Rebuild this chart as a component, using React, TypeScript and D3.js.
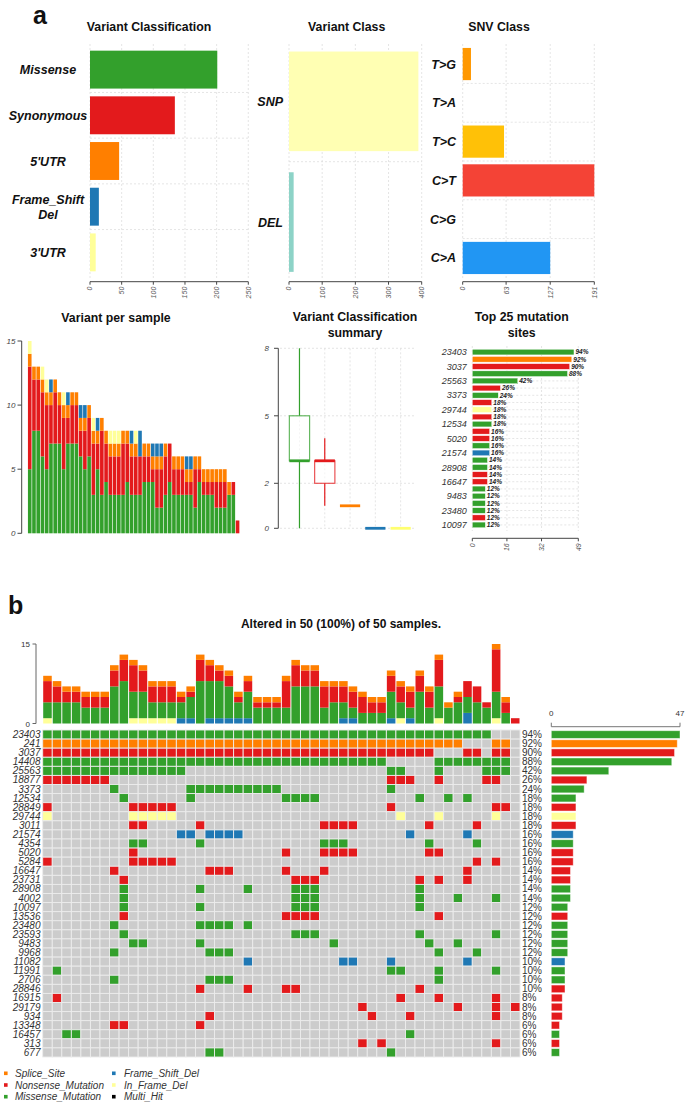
import React, { useEffect, useRef } from 'react';
import * as d3 from 'd3';

const FONT = "'Liberation Sans', Arial, Helvetica, sans-serif";

const green = '#33A02C';
const red = '#E31A1C';
const orange = '#FF7F00';
const blue = '#1F78B4';
const yellow = '#FFFF99';
const typeColor: Record<string, string> = { G: green, R: red, O: orange, B: blue, Y: yellow };

// ---- panel a, top row ----
const vcNames = ['Missense', 'Synonymous', "5'UTR", 'Frame_Shift Del', "3'UTR"];
const vcCounts = [201, 134, 46, 14, 9];
const vcColors = [green, red, orange, blue, yellow];
const vcTicks = [0, 50, 100, 150, 200, 250];

const classNames = ['SNP', 'DEL'];
const classCounts = [390, 14];
const classColors = ['#FFFFB3', '#8DD3C7'];
const classTicks = [0, 100, 200, 300, 400];

const snvNames = ['T>G', 'T>A', 'T>C', 'C>T', 'C>G', 'C>A'];
const snvCounts = [12, 0, 60, 191, 0, 127];
const snvColors = ['#FF9800', '#9E9E9E', '#FFC107', '#F44336', '#3F51B5', '#2196F3'];
const snvTicks = [0, 63, 127, 191];

// ---- panel a, bottom row ----
const boxColors = [green, red, orange, blue, '#FFFF70'];
const boxMin = [0, 1, 1, 0, 0];
const boxQ1 = [3, 2, 1, 0, 0];
const boxMed = [3, 3, 1, 0, 0];
const boxQ3 = [5, 3, 1, 0, 0];
const boxMax = [8, 4, 1, 0, 0];
const boxTicks = [0, 2, 5, 8];

const topSites = ['23403', '241', '3037', '14408', '25563', '18877', '3373', '28849', '29744', '3011', '12534', '5284', '5020', '4354', '21574', '4002', '28908', '23731', '16647', '23593', '9483', '9968', '23480', '13536', '10097'];
const topPct = [94, 92, 90, 88, 42, 26, 24, 18, 18, 18, 18, 16, 16, 16, 16, 14, 14, 14, 14, 12, 12, 12, 12, 12, 12];
const topType = ['G', 'O', 'R', 'G', 'G', 'R', 'G', 'R', 'Y', 'R', 'G', 'R', 'R', 'G', 'B', 'G', 'G', 'R', 'R', 'G', 'G', 'G', 'G', 'R', 'G'];
const topTicks = [0, 16, 32, 49];

// ---- panel b, oncoplot ----
const nSamples = 50;
const genes = ['23403', '241', '3037', '14408', '25563', '18877', '3373', '12534', '28849', '29744', '3011', '21574', '4354', '5020', '5284', '16647', '23731', '28908', '4002', '10097', '13536', '23480', '23593', '9483', '9968', '11082', '11991', '2706', '28846', '16915', '29179', '934', '13348', '16457', '313', '677'];
const genePct = [94, 92, 90, 88, 42, 26, 24, 18, 18, 18, 18, 16, 16, 16, 16, 14, 14, 14, 14, 12, 12, 12, 12, 12, 12, 10, 10, 10, 10, 8, 8, 8, 6, 6, 6, 6];
const geneType = ['G', 'O', 'R', 'G', 'G', 'R', 'G', 'G', 'R', 'Y', 'R', 'B', 'G', 'R', 'R', 'R', 'R', 'G', 'G', 'G', 'R', 'G', 'G', 'G', 'G', 'B', 'G', 'G', 'R', 'R', 'R', 'R', 'R', 'G', 'R', 'G'];
// mutated sample columns per gene (0-based, ranges inclusive)
const geneSamples = [
  '0-46', '0-43,47-48', '0-40,44-45,47-48', '0-35,41-48', '0-14,36-37,41,46-48',
  '0-6,36-38,41,46-47', '7,15-24,36', '8,15,25-28,39,42,44', '0,9-13,36,47-48', '0,9-13,37,41,47',
  '9-10,16,29-32,40,45', '14-15,17-20,38,44', '9-10,16,29-31,40,45', '9,25,29-32,40-41', '0,9-13,45,47',
  '7,17-19,25,29,44', '8,26-28,39,41,44', '8,16,21,26-28,39', '8,26-28,39,43,47', '8,16,26-28,39',
  '8,25-28,41', '7,16-19,21', '8,26-28,39,47', '9-10,16,30,40,43', '7,17-19,41,45',
  '21,31-32,36,44', '1,36-37,41,47', '7,17-19,41', '16,21,25-26,39', '1,37,41,47',
  '33,43,47,49', '17,34,38,47', '7-8,16', '2-3,38', '33,35,47', '17-18,36',
];

const legendLeft = ['Splice_Site', 'Nonsense_Mutation', 'Missense_Mutation'];
const legendLeftColors = [orange, red, green];
const legendRight = ['Frame_Shift_Del', 'In_Frame_Del', 'Multi_Hit'];
const legendRightColors = [blue, yellow, '#000000'];

function parseRuns(s: string): number[] {
  const out: number[] = [];
  s.split(',').forEach(p => {
    const [a, b] = p.split('-').map(Number);
    if (b === undefined || isNaN(b)) out.push(a);
    else for (let i = a; i <= b; i++) out.push(i);
  });
  return out;
}

export default function App() {
  const svgRef = useRef<SVGSVGElement>(null);

  useEffect(() => {
    if (!svgRef.current) return;
    const svg = d3.select(svgRef.current);
    svg.selectAll('*').remove();
    const root = svg.append('g').style('font-family', FONT);

    const gridCol = '#dadada';
    const axisCol = '#444';

    const text = (x: number, y: number, s: string, o: any = {}) =>
      root.append('text')
        .attr('x', x).attr('y', y)
        .attr('font-size', o.size ?? 10)
        .attr('font-weight', o.bold ? 'bold' : null)
        .attr('font-style', o.italic ? 'italic' : null)
        .attr('text-anchor', o.anchor ?? 'start')
        .attr('fill', o.fill ?? '#111')
        .text(s);

    // panel letters
    text(33, 24, 'a', { size: 25, bold: true });
    text(8, 614, 'b', { size: 25, bold: true });

    // ---------- top row horizontal bar panels ----------
    const axisY = 281.7;
    function barPanel(names: string[], counts: number[], colors: string[],
      x: d3.ScaleLinear<number, number>, y: d3.ScaleBand<string>, ticks: number[]) {
      const g = root.append('g');
      ticks.forEach(t => {
        g.append('line').attr('x1', x(t)).attr('x2', x(t))
          .attr('y1', 44).attr('y2', axisY - 3)
          .attr('stroke', gridCol).attr('stroke-width', 0.7).attr('stroke-dasharray', '2,2');
      });
      names.forEach((n, i) => {
        if (i === 0) return;
        const yy = (y(n) as number) - (y.step() - y.bandwidth()) / 2;
        g.append('line').attr('x1', x(ticks[0])).attr('x2', x(ticks[ticks.length - 1]))
          .attr('y1', yy).attr('y2', yy)
          .attr('stroke', gridCol).attr('stroke-width', 0.7).attr('stroke-dasharray', '2,2');
      });
      g.selectAll('rect.bar').data(names).join('rect')
        .attr('x', x(0))
        .attr('y', d => y(d) as number)
        .attr('width', (d, i) => x(counts[i]) - x(0))
        .attr('height', y.bandwidth())
        .attr('fill', (d, i) => colors[i]);
      g.append('line').attr('x1', x(ticks[0])).attr('x2', x(ticks[ticks.length - 1]))
        .attr('y1', axisY).attr('y2', axisY).attr('stroke', axisCol);
      ticks.forEach(t => {
        g.append('line').attr('x1', x(t)).attr('x2', x(t)).attr('y1', axisY).attr('y2', axisY + 3).attr('stroke', axisCol);
        g.append('text')
          .attr('transform', `translate(${x(t) + 2.4},${axisY + 5}) rotate(-90)`)
          .attr('text-anchor', 'end').attr('font-size', 7).attr('font-style', 'italic')
          .attr('fill', '#555').text(t);
      });
    }

    // Variant Classification
    const vcX = d3.scaleLinear().domain([0, 250]).range([90, 248.3]);
    const vcY = d3.scaleBand().domain(vcNames).range([47, 275]).paddingInner(0.17).paddingOuter(0.08);
    barPanel(vcNames, vcCounts, vcColors, vcX, vcY, vcTicks);
    text(149, 31, 'Variant Classification', { size: 12.3, bold: true, anchor: 'middle' });
    vcNames.forEach(n => {
      const cy = (vcY(n) as number) + vcY.bandwidth() / 2;
      const parts = n.split(' ');
      parts.forEach((p, k) => {
        text(48, cy + 4.5 + (k - (parts.length - 1) / 2) * 15, p, { size: 12.5, bold: true, italic: true, anchor: 'middle' });
      });
    });

    // Variant Class
    const clX = d3.scaleLinear().domain([0, 400]).range([289, 421.7]);
    const clY = d3.scaleBand().domain(classNames).range([46.7, 276.7]).paddingInner(0.175).paddingOuter(0.04);
    barPanel(classNames, classCounts, classColors, clX, clY, classTicks);
    text(346.7, 31, 'Variant Class', { size: 12.3, bold: true, anchor: 'middle' });
    classNames.forEach(n => {
      const cy = (clY(n) as number) + clY.bandwidth() / 2;
      text(283, cy + 4.5, n, { size: 12.5, bold: true, italic: true, anchor: 'end' });
    });

    // SNV Class
    const snX = d3.scaleLinear().domain([0, 191]).range([462.7, 594.3]);
    const snY = d3.scaleBand().domain(snvNames).range([46, 276]).paddingInner(0.17).paddingOuter(0.05);
    barPanel(snvNames, snvCounts, snvColors, snX, snY, snvTicks);
    text(499, 31, 'SNV Class', { size: 12.3, bold: true, anchor: 'middle' });
    snvNames.forEach(n => {
      const cy = (snY(n) as number) + snY.bandwidth() / 2;
      text(456, cy + 4.5, n, { size: 12.5, bold: true, italic: true, anchor: 'end' });
    });

    // ---------- oncoplot data aggregation ----------
    const grid: (string | null)[][] = genes.map(() => d3.range(nSamples).map(() => null));
    genes.forEach((gname, r) => parseRuns(geneSamples[r]).forEach(c => { grid[r][c] = geneType[r]; }));
    const perSample = d3.range(nSamples).map(c => {
      const cnt: Record<string, number> = { G: 0, R: 0, O: 0, B: 0, Y: 0 };
      genes.forEach((gname, r) => { const t = grid[r][c]; if (t) cnt[t] += 1; });
      return cnt;
    });
    const totals = perSample.map(cnt => cnt.G + cnt.R + cnt.O + cnt.B + cnt.Y);

    // ---------- Variant per sample ----------
    text(116, 322, 'Variant per sample', { size: 12.3, bold: true, anchor: 'middle' });
    const order = d3.range(nSamples).sort((a, b) => totals[b] - totals[a]);
    const psX = d3.scaleBand<number>().domain(d3.range(nSamples)).range([27.3, 240]).padding(0.15);
    const psY = d3.scaleLinear().domain([0, 15]).range([533.3, 341]);
    const stackA = ['G', 'R', 'O', 'B', 'Y'];
    order.forEach((c, i) => {
      let acc = 0;
      stackA.forEach(t => {
        const v = perSample[c][t];
        if (!v) return;
        root.append('rect').attr('x', psX(i) as number).attr('width', psX.bandwidth())
          .attr('y', psY(acc + v)).attr('height', psY(acc) - psY(acc + v))
          .attr('fill', typeColor[t]);
        acc += v;
      });
    });
    root.append('line').attr('x1', 21.7).attr('x2', 21.7).attr('y1', psY(0)).attr('y2', psY(15)).attr('stroke', axisCol);
    [0, 5, 10, 15].forEach(t => {
      root.append('line').attr('x1', 17.5).attr('x2', 21.7).attr('y1', psY(t)).attr('y2', psY(t)).attr('stroke', axisCol);
      text(15.5, psY(t) + 3, String(t), { size: 8, italic: true, anchor: 'end', fill: '#444' });
    });

    // ---------- Variant Classification summary ----------
    text(355, 321, 'Variant Classification', { size: 12.3, bold: true, anchor: 'middle' });
    text(355, 337, 'summary', { size: 12.3, bold: true, anchor: 'middle' });
    const bxY = d3.scaleLinear().domain([0, 8]).range([528.3, 348.3]);
    const bxX = d3.scaleBand<number>().domain(d3.range(boxColors.length)).range([284.3, 415.8]).padding(0.2);
    boxTicks.forEach(t => {
      root.append('line').attr('x1', 280).attr('x2', 416).attr('y1', bxY(t)).attr('y2', bxY(t))
        .attr('stroke', gridCol).attr('stroke-width', 0.7).attr('stroke-dasharray', '2,2');
    });
    boxColors.forEach((c, i) => {
      const cx = (bxX(i) as number) + bxX.bandwidth() / 2;
      root.append('line').attr('x1', cx).attr('x2', cx).attr('y1', bxY(8)).attr('y2', bxY(0))
        .attr('stroke', gridCol).attr('stroke-width', 0.7).attr('stroke-dasharray', '2,2');
    });
    boxColors.forEach((c, i) => {
      const x0 = bxX(i) as number;
      const w = bxX.bandwidth();
      const cx = x0 + w / 2;
      if (boxMax[i] > boxQ3[i]) root.append('line').attr('x1', cx).attr('x2', cx).attr('y1', bxY(boxMax[i])).attr('y2', bxY(boxQ3[i])).attr('stroke', c).attr('stroke-width', 1.2);
      if (boxMin[i] < boxQ1[i]) root.append('line').attr('x1', cx).attr('x2', cx).attr('y1', bxY(boxQ1[i])).attr('y2', bxY(boxMin[i])).attr('stroke', c).attr('stroke-width', 1.2);
      if (boxQ3[i] > boxQ1[i]) {
        root.append('rect').attr('x', x0).attr('width', w).attr('y', bxY(boxQ3[i])).attr('height', bxY(boxQ1[i]) - bxY(boxQ3[i]))
          .attr('fill', 'white').attr('fill-opacity', 0.6).attr('stroke', c).attr('stroke-opacity', 0.75).attr('stroke-width', 1.2);
      }
      root.append('line').attr('x1', x0).attr('x2', x0 + w).attr('y1', bxY(boxMed[i])).attr('y2', bxY(boxMed[i]))
        .attr('stroke', c).attr('stroke-width', 2.8);
    });
    root.append('line').attr('x1', 278.3).attr('x2', 278.3).attr('y1', bxY(0)).attr('y2', bxY(8)).attr('stroke', axisCol);
    boxTicks.forEach(t => {
      root.append('line').attr('x1', 274).attr('x2', 278.3).attr('y1', bxY(t)).attr('y2', bxY(t)).attr('stroke', axisCol);
      text(269, bxY(t) + 3, String(t), { size: 8, italic: true, anchor: 'end', fill: '#444' });
    });

    // ---------- Top 25 mutation sites ----------
    text(521.7, 321, 'Top 25 mutation', { size: 12.3, bold: true, anchor: 'middle' });
    text(521.7, 337, 'sites', { size: 12.3, bold: true, anchor: 'middle' });
    const tpX = d3.scaleLinear().domain([0, 49]).range([472.3, 578.3]);
    const tpY = d3.scaleBand().domain(topSites).range([347.7, 529.3]).padding(0.22);
    topTicks.forEach(t => {
      root.append('line').attr('x1', tpX(t)).attr('x2', tpX(t)).attr('y1', 346).attr('y2', 531)
        .attr('stroke', gridCol).attr('stroke-width', 0.7).attr('stroke-dasharray', '2,2');
    });
    topSites.forEach(s => {
      const cy = (tpY(s) as number) + tpY.bandwidth() / 2;
      root.append('line').attr('x1', tpX(0)).attr('x2', tpX(49)).attr('y1', cy).attr('y2', cy)
        .attr('stroke', gridCol).attr('stroke-width', 0.7).attr('stroke-dasharray', '2,2');
    });
    topSites.forEach((s, i) => {
      const v = topPct[i] / 100 * nSamples;
      const y0 = tpY(s) as number;
      root.append('rect').attr('x', tpX(0)).attr('y', y0).attr('width', tpX(v) - tpX(0)).attr('height', tpY.bandwidth())
        .attr('fill', typeColor[topType[i]]).attr('stroke', 'white').attr('stroke-width', 0.4);
      text(tpX(v) + 1.5, y0 + tpY.bandwidth() / 2 + 2.3, `${topPct[i]}%`, { size: 6.5, bold: true, italic: true, fill: '#222' });
      if (i % 2 === 0) text(466.7, y0 + tpY.bandwidth() / 2 + 3.2, s, { size: 9, italic: true, anchor: 'end', fill: '#333' });
    });
    const tpAxis = 538.3;
    root.append('line').attr('x1', tpX(0)).attr('x2', tpX(49)).attr('y1', tpAxis).attr('y2', tpAxis).attr('stroke', axisCol);
    topTicks.forEach(t => {
      root.append('line').attr('x1', tpX(t)).attr('x2', tpX(t)).attr('y1', tpAxis).attr('y2', tpAxis + 3).attr('stroke', axisCol);
      root.append('text')
        .attr('transform', `translate(${tpX(t) + 2.4},${tpAxis + 5}) rotate(-90)`)
        .attr('text-anchor', 'end').attr('font-size', 7).attr('font-style', 'italic')
        .attr('fill', '#555').text(t);
    });

    // ---------- Oncoplot ----------
    text(341, 628, 'Altered in 50 (100%) of 50 samples.', { size: 12, bold: true, anchor: 'middle' });
    const cX = d3.scaleBand<number>().domain(d3.range(nSamples)).range([42.7, 520]);
    const rY = d3.scaleBand().domain(genes).range([730, 1057]);
    const tbY = d3.scaleLinear().domain([0, 15]).range([723.5, 644]);
    const stackB = ['B', 'Y', 'G', 'R', 'O'];
    d3.range(nSamples).forEach(c => {
      let acc = 0;
      stackB.forEach(t => {
        const v = perSample[c][t];
        if (!v) return;
        root.append('rect').attr('x', (cX(c) as number) + 0.5).attr('width', cX.bandwidth() - 1)
          .attr('y', tbY(acc + v)).attr('height', tbY(acc) - tbY(acc + v))
          .attr('fill', typeColor[t]);
        acc += v;
      });
    });
    root.append('line').attr('x1', 36).attr('x2', 36).attr('y1', tbY(0)).attr('y2', tbY(15)).attr('stroke', '#666');
    [0, 15].forEach(t => {
      root.append('line').attr('x1', 32.5).attr('x2', 36).attr('y1', tbY(t)).attr('y2', tbY(t)).attr('stroke', '#666');
      text(30, tbY(t) + 3, String(t), { size: 8, anchor: 'end', fill: '#333' });
    });

    genes.forEach((gname, r) => {
      d3.range(nSamples).forEach(c => {
        const t = grid[r][c];
        root.append('rect').attr('x', cX(c) as number).attr('y', rY(gname) as number)
          .attr('width', cX.bandwidth()).attr('height', rY.bandwidth())
          .attr('fill', t ? typeColor[t] : '#CCCCCC')
          .attr('stroke', '#ececec').attr('stroke-width', 0.9);
      });
      const cy = (rY(gname) as number) + rY.bandwidth() / 2;
      text(40.5, cy + 3.5, gname, { size: 10, italic: true, anchor: 'end', fill: '#333' });
      text(522, cy + 3.5, `${genePct[r]}%`, { size: 10, anchor: 'start', fill: '#333' });
    });

    // right bar plot
    const rbX = d3.scaleLinear().domain([0, 47]).range([551.3, 680]);
    genes.forEach((gname, r) => {
      const v = genePct[r] / 100 * nSamples;
      const h = rY.bandwidth() * 0.84;
      root.append('rect').attr('x', rbX(0)).attr('y', (rY(gname) as number) + (rY.bandwidth() - h) / 2)
        .attr('width', rbX(v) - rbX(0)).attr('height', h)
        .attr('fill', typeColor[geneType[r]]).attr('stroke', 'rgba(255,255,255,0.55)').attr('stroke-width', 0.8);
    });
    const rbAxis = 726.7;
    root.append('line').attr('x1', rbX(0)).attr('x2', rbX(47)).attr('y1', rbAxis).attr('y2', rbAxis).attr('stroke', '#777');
    [0, 47].forEach(t => {
      root.append('line').attr('x1', rbX(t)).attr('x2', rbX(t)).attr('y1', rbAxis - 4).attr('y2', rbAxis).attr('stroke', '#777');
      text(rbX(t), 716, String(t), { size: 8, anchor: 'middle', fill: '#333' });
    });

    // legend
    const legRows = [1073.3, 1085, 1096.7];
    legendLeft.forEach((s, i) => {
      root.append('rect').attr('x', 4).attr('y', legRows[i] - 1.8).attr('width', 3.6).attr('height', 3.6).attr('fill', legendLeftColors[i]);
      text(15, legRows[i] + 3.5, s, { size: 10, italic: true, fill: '#333' });
    });
    legendRight.forEach((s, i) => {
      root.append('rect').attr('x', 112).attr('y', legRows[i] - 1.8).attr('width', 3.6).attr('height', 3.6).attr('fill', legendRightColors[i]);
      text(124, legRows[i] + 3.5, s, { size: 10, italic: true, fill: '#333' });
    });
  }, []);

  return (
    <svg ref={svgRef} width={687} height={1105}
      style={{ position: 'absolute', left: 0, top: 0, background: 'white' }} />
  );
}
